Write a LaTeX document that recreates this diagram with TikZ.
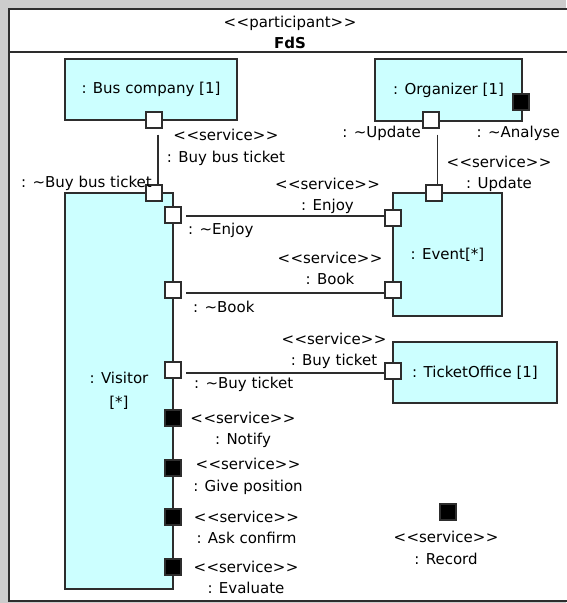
\documentclass[tikz,border=0pt]{standalone}
\usepackage{fontspec}
\setmainfont{DejaVu Sans}
\usetikzlibrary{calc}
\definecolor{partfill}{RGB}{204,255,255}
\definecolor{edge}{RGB}{45,45,45}
\definecolor{margin}{RGB}{204,204,204}
% guillemet-free stereotype brackets
\newcommand\stlt{<\kern0.5pt<}
\newcommand\stgt{>\kern0.5pt>}
\newcommand\svc{\stlt service\stgt}
\begin{document}
\begin{tikzpicture}[x=1pt,y=-1pt,
  txt/.style={font=\fontsize{15}{21.5}\selectfont, inner sep=0pt, align=center, text=black},
  part/.style={draw=edge, line width=1.2pt, fill=partfill, inner sep=0pt, txt},
  port/.style={draw=edge, line width=1.2pt, fill=white, minimum size=16pt, inner sep=0pt},
  bport/.style={port, fill=black},
  wire/.style={draw=edge, line width=1.2pt},
]
\useasboundingbox (0,0) rectangle (566,603);
\fill[margin] (0,0) rectangle (566,603);
% participant frame and its header
\draw[edge, line width=1.5pt, fill=white] (9,9) rectangle (575,601);
\draw[edge, line width=1.5pt] (9,52) -- (575,52);
\node[txt] (stereo) at (290,23) {\stlt participant\stgt};
\node[txt, font=\fontsize{15}{18}\selectfont\bfseries] (fds) at (290,43) {FdS};

% parts
\node[part, minimum width=172pt, minimum height=61pt] (bus) at (151,89.5) {: Bus company [1]};
\node[part, minimum width=147pt, minimum height=62pt] (org) at (448.5,90) {: Organizer [1]};
\node[part, minimum width=108pt, minimum height=396pt] (vis) at (119,391) {: Visitor\\[2pt][*]};
\node[part, minimum width=109pt, minimum height=123pt] (ev) at (447.5,254.5) {: Event[*]};
\node[part, minimum width=164pt, minimum height=61pt] (tick) at (475,372.5) {: TicketOffice [1]};

% ports
\node[port] (pBus) at (154,120) {};
\node[port] (pOrgU) at (431,120) {};
\node[bport] (pOrgA) at (521,102) {};
\node[port] (pVisBus) at (154,193) {};
\node[port] (pVisEnjoy) at (173,215) {};
\node[port] (pVisBook) at (173,290) {};
\node[port] (pVisBuy) at (173,370) {};
\node[bport] (pVisNotify) at (173,418) {};
\node[bport] (pVisGive) at (173,468) {};
\node[bport] (pVisAsk) at (173,517) {};
\node[bport] (pVisEval) at (173,567) {};
\node[port] (pEvU) at (434,193) {};
\node[port] (pEvEnjoy) at (393,218) {};
\node[port] (pEvBook) at (393,290) {};
\node[port] (pTick) at (393,371) {};
\node[bport] (pRecord) at (448,512) {};

% connectors
\draw[wire] ($(pBus.south)+(4pt,-6pt)$) -- ($(pVisBus.north)+(4pt,0)$);
\draw[wire] ($(pOrgU.south)+(6.5pt,-6pt)$) -- ($(pEvU.north)+(3.5pt,0)$);
\draw[wire] ($(pVisEnjoy.east)+(4.5pt,-1pt)$) -- ($(pVisEnjoy.east -| pEvEnjoy.west)+(0,-1pt)$);
\draw[wire] ($(pVisBook.east)+(4.5pt,-3pt)$) -- ($(pVisBook.east -| pEvBook.west)+(0,-3pt)$);
\draw[wire] ($(pVisBuy.east)+(4.5pt,-3pt)$) -- ($(pVisBuy.east -| pTick.west)+(0,-3pt)$);

% port labels
\node[txt] (lBus) at (226,147.5) {\svc\\: Buy bus ticket};
\node[txt, anchor=east] (lBusC) at (152,183) {: \textasciitilde Buy bus ticket};
\node[txt, anchor=east] (lOrgU) at (421,133) {: \textasciitilde Update};
\node[txt, anchor=west] (lOrgA) at (476.5,133) {: \textasciitilde Analyse};
\node[txt] (lUpd) at (499,174) {\svc\\: Update};
\node[txt] (lEnjoy) at (327.5,196) {\svc\\: Enjoy};
\node[txt, anchor=west] (lEnjoyC) at (188,230) {: \textasciitilde Enjoy};
\node[txt] (lBook) at (330,268.5) {\svc\\: Book};
\node[txt, anchor=west] (lBookC) at (193,307) {: \textasciitilde Book};
\node[txt] (lBuy) at (334,351) {\svc\\: Buy ticket};
\node[txt, anchor=west] (lBuyC) at (194,384) {: \textasciitilde Buy ticket};
\node[txt] (lNotify) at (243,430) {\svc\\: Notify};
\node[txt] (lGive) at (248,476.5) {\svc\\: Give position};
\node[txt] (lAsk) at (246.5,527.5) {\svc\\: Ask confirm};
\node[txt] (lEval) at (246,577.5) {\svc\\: Evaluate};
\node[txt] (lRecord) at (446,548) {\svc\\: Record};
\end{tikzpicture}
\end{document}
